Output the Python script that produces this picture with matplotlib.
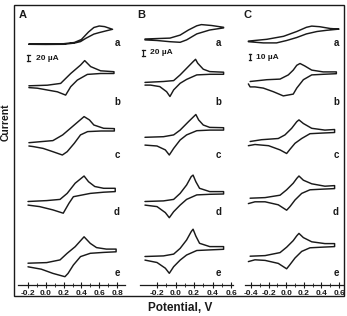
import matplotlib
matplotlib.use("Agg")
import matplotlib.pyplot as plt
from matplotlib.patches import Rectangle

plt.rcParams['font.family'] = ['Liberation Sans', 'DejaVu Sans']
plt.rcParams['axes.unicode_minus'] = False

# ---------------- data (potential V, current uA), forward scan then reverse ----------------
A_a = [(-0.19, 0), (0.0, 0.5), (0.2, 1), (0.32, 5), (0.40, 15), (0.48, 40), (0.54, 55), (0.60, 60),
       (0.66, 58), (0.75, 49), (0.68, 44), (0.60, 38), (0.54, 33), (0.45, 19), (0.39, 8), (0.32, 3),
       (0.2, -1), (0.0, -1.5), (-0.19, -1)]
A_b = [(-0.19, 3), (0.017, 5), (0.167, 11), (0.28, 44), (0.39, 72), (0.437, 87), (0.504, 67),
       (0.616, 53), (0.766, 50), (0.766, 44), (0.616, 44), (0.467, 41), (0.354, 22), (0.28, 0),
       (0.223, -28), (0.13, -17), (0.017, -11), (-0.095, -5), (-0.19, -3)]
A_c = [(-0.19, 2), (0.08, 9), (0.19, 28), (0.30, 56), (0.43, 89), (0.49, 78), (0.54, 61), (0.65, 50),
       (0.77, 49), (0.77, 41), (0.62, 41), (0.47, 39), (0.39, 28), (0.32, 0), (0.24, -28), (0.186, -39),
       (0.08, -28), (-0.03, -17), (-0.14, -11), (-0.19, -9)]
A_d = [(-0.2, 6), (0.01, 9), (0.16, 13), (0.24, 33), (0.33, 67), (0.43, 91), (0.48, 72), (0.55, 56),
       (0.65, 50), (0.78, 50), (0.78, 39), (0.65, 37), (0.50, 33), (0.31, 22), (0.26, 0), (0.196, -33),
       (0.08, -22), (-0.07, -11), (-0.2, -6)]
A_e = [(-0.2, 6), (0.01, 8), (0.16, 17), (0.24, 39), (0.33, 61), (0.43, 94), (0.50, 72), (0.57, 58),
       (0.68, 53), (0.79, 53), (0.79, 44), (0.65, 42), (0.50, 39), (0.39, 28), (0.31, 0), (0.25, -28),
       (0.215, -39), (0.08, -28), (-0.05, -14), (-0.2, -6)]

B_a = [(-0.33, 1), (-0.06, 4), (0.05, 14), (0.14, 31), (0.23, 45), (0.28, 49), (0.39, 46), (0.52, 40),
       (0.52, 38), (0.37, 31), (0.23, 18), (0.12, -2), (0.05, -10), (-0.06, -8), (-0.2, -4), (-0.33, -2)]
B_b = [(-0.33, 3), (-0.13, 6), (-0.02, 9), (0.05, 28), (0.12, 50), (0.19, 72), (0.217, 80), (0.24, 67),
       (0.30, 47), (0.37, 39), (0.52, 37), (0.52, 30), (0.37, 30), (0.23, 28), (0.12, 13), (0.05, 0),
       (-0.02, -22), (-0.06, -44), (-0.096, -28), (-0.17, -11), (-0.27, -6), (-0.33, -6)]
B_c = [(-0.33, 9), (-0.13, 11), (-0.02, 17), (0.05, 33), (0.14, 61), (0.22, 85), (0.25, 67), (0.30, 50),
       (0.37, 42), (0.52, 41), (0.52, 33), (0.37, 33), (0.23, 31), (0.12, 17), (0.05, 0), (-0.02, -28),
       (-0.067, -50), (-0.11, -33), (-0.2, -20), (-0.33, -17)]
B_d = [(-0.33, 6), (-0.13, 8), (-0.02, 13), (0.05, 33), (0.12, 61), (0.17, 89), (0.19, 94), (0.22, 72),
       (0.26, 50), (0.37, 39), (0.52, 39), (0.52, 31), (0.37, 30), (0.23, 28), (0.12, 13), (0.05, -6),
       (-0.02, -28), (-0.067, -48), (-0.11, -31), (-0.2, -11), (-0.33, -6)]
B_e = [(-0.33, 6), (-0.13, 8), (-0.02, 14), (0.05, 33), (0.12, 61), (0.17, 89), (0.19, 97), (0.22, 74),
       (0.26, 50), (0.37, 39), (0.52, 39), (0.52, 30), (0.37, 28), (0.23, 26), (0.12, 11), (0.05, -6),
       (-0.02, -28), (-0.067, -50), (-0.11, -33), (-0.2, -14), (-0.33, -6)]

C_a = [(-0.43, 1), (-0.22, 4), (-0.03, 9), (0.12, 17), (0.23, 24), (0.29, 26), (0.38, 25), (0.50, 22),
       (0.60, 21), (0.46, 19), (0.35, 17), (0.23, 13), (0.12, 7), (0.005, 2), (-0.11, -2), (-0.26, -2),
       (-0.43, 0)]
C_b = [(-0.41, 3), (-0.22, 6), (-0.07, 7), (0.024, 14), (0.08, 22), (0.12, 30), (0.157, 33), (0.21, 29),
       (0.29, 22), (0.42, 19), (0.57, 19), (0.57, 16), (0.42, 15), (0.29, 14), (0.195, 6), (0.12, -8),
       (0.08, -18), (-0.033, -21), (-0.146, -14), (-0.26, -8), (-0.355, -6), (-0.41, -6), (-0.43, -1)]
C_c = [(-0.41, 3), (-0.28, 6), (-0.09, 8), (-0.014, 14), (0.062, 25), (0.12, 36), (0.145, 39),
       (0.195, 33), (0.29, 25), (0.44, 22), (0.55, 23), (0.55, 18), (0.40, 17), (0.27, 16), (0.176, 8),
       (0.10, 0), (0.043, -10), (0.005, -17), (-0.07, -11), (-0.20, -4), (-0.355, -2), (-0.43, -4)]
C_d = [(-0.41, 3), (-0.24, 4), (-0.07, 8), (0.005, 17), (0.08, 28), (0.12, 36), (0.145, 40), (0.195, 33),
       (0.29, 27), (0.44, 23), (0.55, 24), (0.55, 19), (0.40, 18), (0.27, 17), (0.176, 11), (0.10, 0),
       (0.043, -11), (0.005, -17), (-0.09, -8), (-0.24, -3), (-0.355, -3), (-0.43, -6)]
C_e = [(-0.41, 3), (-0.24, 4), (-0.07, 9), (0.005, 18), (0.08, 29), (0.12, 37), (0.145, 41), (0.195, 34),
       (0.29, 27), (0.44, 24), (0.55, 24), (0.55, 19), (0.40, 18), (0.27, 17), (0.176, 11), (0.10, 0),
       (0.043, -11), (0.005, -18), (-0.09, -9), (-0.24, -4), (-0.355, -3), (-0.43, -6)]

curve_labels = ['a', 'b', 'c', 'd', 'e']
ticks_A = [-0.2, 0.0, 0.2, 0.4, 0.6, 0.8]
ticks_B = [-0.2, 0.0, 0.2, 0.4, 0.6]
ticks_C = [-0.4, -0.2, 0.0, 0.2, 0.4, 0.6]
panel_names = ['A', 'B', 'C']
scale_texts = ['20 µA', '20 µA', '10 µA']
scale_values = [20, 20, 10]

# ---------------- layout (pixels) ----------------
W, H = 347, 316
fig = plt.figure(figsize=(W / 100, H / 100), dpi=100)

def fx(px):
    return px / W

def fy(py):
    return 1 - py / H

INK = '#1a1a1a'
AX_TOP, AX_BOT = 5, 285
cols = [
    dict(curves=[A_a, A_b, A_c, A_d, A_e], ticks=ticks_A, xpx=(18, 125), ref=(28, -0.2), ppv=89.0,
         k=20 / 6, base=[44, 86.7, 143.3, 203.3, 265], lab_x=117, bar=(28.3, 58.3), txt_x=36.5,
         letter=(23, 15)),
    dict(curves=[B_a, B_b, B_c, B_d, B_e], ticks=ticks_B, xpx=(140, 233), ref=(157, -0.2), ppv=92.5,
         k=20 / 6, base=[39.3, 83.3, 140, 203.3, 258.3], lab_x=218.3, bar=(143.3, 52.7), txt_x=149.5,
         letter=(141.7, 15)),
    dict(curves=[C_a, C_b, C_c, C_d, C_e], ticks=ticks_C, xpx=(245, 343), ref=(251, -0.4), ppv=88.0,
         k=10 / 6, base=[41.7, 83.3, 143.3, 200, 258], lab_x=336, bar=(250, 57.3), txt_x=255.5,
         letter=(247.7, 15)),
]
lab_y = [42.7, 101.7, 155, 211.7, 273]

for ci, c in enumerate(cols):
    x0, x1 = c['xpx']
    ax = fig.add_axes([fx(x0), fy(AX_BOT), (x1 - x0) / W, (AX_BOT - AX_TOP) / H])
    v = lambda px, c=c: (px - c['ref'][0]) / c['ppv'] + c['ref'][1]
    ax.set_xlim(v(x0), v(x1))
    k = c['k']
    ax.set_ylim(0, (AX_BOT - AX_TOP) * k)
    for cv, b in zip(c['curves'], c['base']):
        off = (AX_BOT - b) * k
        E = [p[0] for p in cv]
        I = [p[1] + off for p in cv]
        ax.plot(E, I, color=INK, lw=1.05, solid_joinstyle='round', solid_capstyle='round')
    # scale bar
    bx, by = c['bar']
    ybot = (AX_BOT - by) * k - scale_values[ci] / 2
    ytop = ybot + scale_values[ci]
    xb = v(bx)
    hw = 1.3 / c['ppv']
    ax.plot([xb, xb], [ybot, ytop], color=INK, lw=0.9)
    ax.plot([xb - hw, xb + hw], [ybot, ybot], color=INK, lw=0.9)
    ax.plot([xb - hw, xb + hw], [ytop, ytop], color=INK, lw=0.9)
    fig.text(fx(c['txt_x']), fy(by), scale_texts[ci], fontsize=6, fontweight='bold',
             ha='left', va='center', color=INK)
    for s in ['top', 'left', 'right']:
        ax.spines[s].set_visible(False)
    ax.spines['bottom'].set_linewidth(0.9)
    ax.spines['bottom'].set_color(INK)
    ax.set_yticks([])
    ax.set_xticks(c['ticks'])
    ax.set_xticklabels([f"{t:.1f}" for t in c['ticks']], fontsize=6, fontweight='bold', color=INK)
    ax.set_xticks([t + 0.1 for t in c['ticks'][:-1]], minor=True)
    ax.tick_params(axis='x', which='major', direction='inout', length=4, width=0.8, pad=1.5, color=INK)
    ax.tick_params(axis='x', which='minor', direction='inout', length=2.5, width=0.6, color=INK)
    ax.patch.set_visible(False)
    for lbl, ly in zip(curve_labels, lab_y):
        fig.text(fx(c['lab_x']), fy(ly), lbl, fontsize=7, fontweight='bold', ha='center', va='center',
                 color=INK)
    lx, ly = c['letter']
    fig.text(fx(lx), fy(ly), panel_names[ci], fontsize=8, fontweight='bold', ha='center', va='center',
             color=INK)

fig.add_artist(Rectangle((fx(14), fy(296)), (344 - 14) / W, (296 - 5) / H, transform=fig.transFigure,
                         fill=False, lw=1.0, ec=INK))
fig.text(fx(180), fy(308), 'Potential, V', fontsize=8.5, fontweight='bold', ha='center', va='center',
         color=INK)
fig.text(fx(6), fy(122), 'Current', fontsize=7.5, fontweight='bold', rotation=90, ha='center',
         va='center', color=INK)

fig.savefig('out.png', dpi=100)
